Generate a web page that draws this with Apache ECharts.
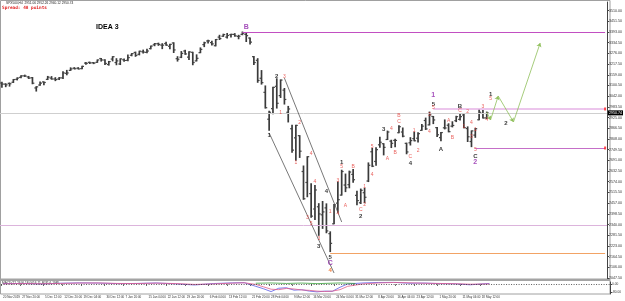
<!DOCTYPE html>
<html>
<head>
<meta charset="utf-8">
<title>SPX500 H4 - IDEA 3</title>
<script src="https://cdn.jsdelivr.net/npm/echarts@6/dist/echarts.min.js"></script>
<style>
  html, body { margin: 0; padding: 0; background: #fff; }
  #chart { width: 625px; height: 301px; }
</style>
</head>
<body>
<div id="chart"></div>
<script>
// one bar per session
var dates = [
  '2019.11.20','2019.11.21','2019.11.22','2019.11.25','2019.11.26','2019.11.27','2019.11.28','2019.11.29',
  '2019.12.02','2019.12.03','2019.12.04','2019.12.05','2019.12.06','2019.12.09','2019.12.10','2019.12.11',
  '2019.12.12','2019.12.13','2019.12.16','2019.12.17','2019.12.18','2019.12.19','2019.12.20','2019.12.23',
  '2019.12.24','2019.12.26','2019.12.27','2019.12.30','2019.12.31',
  '2020.01.02','2020.01.03','2020.01.06','2020.01.07','2020.01.08','2020.01.09','2020.01.10','2020.01.13',
  '2020.01.14','2020.01.15','2020.01.16','2020.01.17','2020.01.20','2020.01.21','2020.01.22','2020.01.23',
  '2020.01.24','2020.01.27','2020.01.28','2020.01.29','2020.01.30','2020.01.31',
  '2020.02.03','2020.02.04','2020.02.05','2020.02.06','2020.02.07','2020.02.10','2020.02.11','2020.02.12',
  '2020.02.13','2020.02.14','2020.02.17','2020.02.18','2020.02.19','2020.02.20','2020.02.21','2020.02.24',
  '2020.02.25','2020.02.26','2020.02.27','2020.02.28',
  '2020.03.02','2020.03.03','2020.03.04','2020.03.05','2020.03.06','2020.03.09','2020.03.10','2020.03.11',
  '2020.03.12','2020.03.13','2020.03.16','2020.03.17','2020.03.18','2020.03.19','2020.03.20','2020.03.23',
  '2020.03.24','2020.03.25','2020.03.26','2020.03.27','2020.03.30','2020.03.31',
  '2020.04.01','2020.04.02','2020.04.03','2020.04.06','2020.04.07','2020.04.08','2020.04.09','2020.04.13',
  '2020.04.14','2020.04.15','2020.04.16','2020.04.17','2020.04.20','2020.04.21','2020.04.22','2020.04.23',
  '2020.04.24','2020.04.27','2020.04.28','2020.04.29','2020.04.30',
  '2020.05.01','2020.05.04','2020.05.05','2020.05.06','2020.05.07','2020.05.08','2020.05.11','2020.05.12',
  '2020.05.13','2020.05.14','2020.05.15','2020.05.18','2020.05.19','2020.05.20'
];
// empty space on the right for the projection
var futureDates = [
  '2020.05.21','2020.05.22','2020.05.26','2020.05.27','2020.05.28','2020.05.29',
  '2020.06.01','2020.06.02','2020.06.03','2020.06.04','2020.06.05','2020.06.08','2020.06.09','2020.06.10',
  '2020.06.11','2020.06.12','2020.06.15','2020.06.16','2020.06.17','2020.06.18','2020.06.19','2020.06.22',
  '2020.06.23','2020.06.24','2020.06.25','2020.06.26','2020.06.29','2020.06.30','2020.07.01','2020.07.02',
  '2020.07.06'
];

var opens = [
  3114,3108,3112,3118,3134,3145,3153,3147, 3143,3087,3103,3120,3134,3141,3136,3136,3142,3167,3183,3195,3195,3193,3223,3227,3225,3227,3248,3240,3215,
  3245,3226,3218,3241,3238,3266,3281,3271,3285,3282,3302,3323,3329,3321,3330,3315,3333,3247,3255,3289,3256,3282,
  3235,3280,3324,3344,3335,3318,3365,3370,3365,3378,3380,3369,3380,3380,3360,3258,3238,3140,3063,2916,
  2974,3096,3045,3075,2954,2864,2814,2826,2630,2570,2509,2425,2437,2393,2431,2290,2344,2457,2501,2556,2558,2614,
  2499,2459,2514,2578,2738,2685,2776,2782,2805,2796,2800,2842,2846,2784,2787,2810,2812,2855,2909,2885,2931,
  2870,2815,2869,2883,2878,2908,2915,2939,2865,2794,2829,2913,2948,2923
];
var highs = [
  3118,3110,3114,3133,3142,3154,3157,3150, 3144,3094,3119,3120,3150,3149,3143,3144,3176,3183,3197,3198,3198,3206,3226,3228,3226,3240,3248,3241,3232,
  3258,3247,3246,3245,3267,3275,3283,3288,3294,3298,3316,3330,3332,3329,3337,3326,3334,3258,3286,3293,3285,3282,
  3268,3306,3337,3348,3342,3352,3375,3381,3385,3381,3384,3375,3393,3389,3360,3259,3247,3182,3098,2959,
  3091,3137,3131,3084,2986,2883,2883,2826,2660,2711,2563,2553,2454,2466,2453,2300,2450,2572,2637,2616,2632,2641,
  2522,2534,2538,2677,2756,2760,2818,2782,2851,2801,2807,2880,2868,2785,2815,2845,2842,2887,2922,2955,2931,
  2870,2844,2912,2891,2902,2932,2945,2945,2874,2852,2865,2968,2964,2955
];
var lows = [
  3091,3094,3097,3117,3131,3143,3150,3139, 3110,3070,3102,3104,3133,3135,3127,3133,3138,3159,3183,3191,3191,3192,3217,3221,3220,3227,3234,3215,3212,
  3235,3214,3215,3233,3236,3263,3260,3268,3278,3280,3301,3318,3320,3302,3320,3301,3281,3234,3253,3271,3242,3214,
  3235,3280,3313,3333,3322,3317,3352,3369,3360,3366,3370,3356,3378,3341,3328,3215,3118,3108,2977,2855,
  2946,2977,3035,2999,2901,2735,2691,2707,2478,2492,2380,2367,2281,2319,2295,2192,2344,2407,2501,2520,2541,2571,
  2448,2455,2459,2575,2657,2664,2762,2721,2805,2761,2765,2842,2820,2727,2775,2798,2791,2855,2860,2885,2892,
  2822,2798,2863,2847,2874,2903,2912,2869,2794,2766,2817,2913,2922,2920
];
var closes = [
  3108,3104,3110,3133,3141,3153,3152,3141, 3113,3093,3113,3117,3146,3136,3133,3142,3169,3169,3191,3192,3191,3205,3221,3224,3223,3240,3240,3221,3231,
  3258,3235,3246,3237,3253,3275,3265,3288,3283,3289,3316,3329,3325,3321,3321,3325,3295,3244,3276,3273,3284,3226,
  3249,3298,3334,3345,3328,3352,3357,3379,3374,3380,3372,3370,3386,3373,3338,3226,3128,3116,2979,2954,
  3090,3003,3130,3024,2972,2747,2882,2741,2481,2711,2386,2529,2398,2409,2305,2237,2447,2476,2630,2541,2627,2585,
  2471,2527,2489,2664,2659,2750,2790,2762,2846,2784,2800,2875,2823,2737,2799,2798,2837,2878,2863,2940,2912,
  2831,2843,2868,2848,2882,2930,2930,2870,2820,2852,2864,2954,2923,2950.74
];

// price scale ticks
var priceMin = 2047.5;
var priceMax = 3557.1;
var priceStep = 58.5;

// bottom time labels: bar index and text
var tickIdx = [0, 5, 11, 16, 21, 27, 32, 38, 43, 48, 54, 59, 65, 70, 76, 81, 87, 92, 98, 103, 108, 114, 120, 125];
var tickLabels = [
  '20 Nov 2019', '27 Nov 20:00', '5 Dec 12:00', '12 Dec 20:00', '19 Dec 04:00', '30 Dec 12:00',
  '7 Jan 20:00', '15 Jan 04:00', '22 Jan 12:00', '29 Jan 20:00', '6 Feb 04:00', '13 Feb 12:00',
  '21 Feb 20:00', '28 Feb 04:00', '9 Mar 12:00', '16 Mar 20:00', '24 Mar 04:00', '31 Mar 12:00',
  '8 Apr 20:00', '16 Apr 04:00', '23 Apr 12:00', '1 May 20:00', '11 May 04:00', '18 May 12:00'
];

// horizontal levels
var peakLevel = 3393;
var wave5Level = 2972;
var bidPrice = 2950.74;
var wave2Level = 2758.5;
var midLevel = 2333.6;
var lowLevel = 2184;

// channel lines: [startIdx, startPrice, endIdx, endPrice]
var channelA = [70, 2841, 87, 2075];
var channelB = [74, 3141, 89, 2354];

// projected path
var projIdx = [127, 128, 130, 134, 141];
var projPrice = [2955, 2912, 3043, 2901, 3333];

// wave labels: [barIdx, price, text]
var blackWaves = [
  [72, 3152, '2'], [70, 2830, '1'], [85, 2523, '4'], [83, 2222, '3'], [86, 2162, '5'],
  [89, 2682, '1'], [94, 2387, '2'], [100, 2862, '3'], [107, 2676, '4'], [113, 2999, '5'],
  [115, 2753, 'A'], [120, 2988, 'B'], [124, 2715, 'C'], [128, 3054, '1'], [132, 2895, '2']
];
var purpleWaves = [[64, 3420, 'B'], [86, 2129, 'C'], [113, 3048, '1'], [124, 2682, '2']];
var orangeWaves = [[86, 2091, '4']];
var redWaves = [
  [74, 3147, '3'], [73, 2950, '1'], [78, 2895, '2'], [77, 2677, '1'], [81, 2726, '4'],
  [82, 2573, '4'], [80, 2376, '3'], [81, 2343, '5'], [83, 2261, '3'], [86, 2408, '1'],
  [89, 2655, '5'], [88, 2578, '3'], [88, 2397, '4'], [90, 2441, 'A'], [92, 2655, 'B'],
  [95, 2545, '1'], [94, 2419, 'C'], [95, 2447, '2'], [97, 2611, '4'], [97, 2764, '5'],
  [101, 2698, 'A'], [102, 2862, '4'], [104, 2934, 'B'], [104, 2901, 'C'], [103, 2731, 'B'],
  [107, 2709, 'C'], [108, 2851, '1'], [109, 2742, '2'], [112, 2939, '3'], [112, 2846, '4'],
  [113, 2977, '5'], [117, 2906, 'A'], [118, 2813, 'B'], [120, 2961, 'C'], [122, 2955, '2'],
  [121, 2873, '1'], [123, 2895, '4'], [123, 2819, '3'], [124, 2857, '1'], [124, 2748, '5'],
  [126, 2983, '3'], [127, 2912, '4'], [128, 3026, '5']
];

// oscillator in the lower window, sampled
var oscIdx = [0, 5, 10, 15, 20, 25, 30, 35, 40, 45, 50, 55, 60, 63, 66, 68, 70, 72, 74, 76, 78, 80, 82, 84, 86, 88, 90, 94, 98, 102, 106, 110, 114, 118, 122, 127];
var oscMain = [8, 10, 4, 12, 16, 14, 8, 10, 15, 6, -6, 9, 16, 18, -20, -45, -75, -40, -35, -60, -55, -70, -78, -70, -72, -30, 5, 15, 20, 22, 12, 14, 8, 6, -4, 10];
var oscSignal = [6, 9, 6, 10, 14, 15, 10, 9, 13, 9, 0, 5, 13, 17, 0, -25, -50, -55, -42, -48, -58, -62, -70, -74, -70, -55, -20, 5, 15, 20, 17, 12, 10, 7, 2, 5];
var oscGreenIdx = [66, 70, 74, 78, 82, 88, 92];
var oscGreen = [12, 15, 10, 14, 8, 15, 10];

var chart = echarts.init(document.getElementById('chart'));

var categories = dates.concat(futureDates);
var lastIdx = categories.length - 1;
var bars = opens.map(function (o, i) { return [i, o, closes[i], lows[i], highs[i]]; });

var tickMap = {};
tickIdx.forEach(function (k, i) { tickMap[k] = tickLabels[i]; });

function pairs(xs, ys) {
  return xs.map(function (x, i) { return [x, ys[i]]; });
}

function wavePoints(list) {
  return list.map(function (d) { return { name: d[2], value: [d[0], d[1]] }; });
}

function waveSeries(list, color, size, bold, extra) {
  var s = {
    type: 'scatter',
    xAxisIndex: 0,
    yAxisIndex: 0,
    symbolSize: 1,
    itemStyle: { color: 'rgba(0,0,0,0)' },
    silent: true,
    z: 6,
    data: wavePoints(list),
    label: {
      show: true,
      position: 'inside',
      formatter: '{b}',
      color: color,
      fontSize: size,
      fontWeight: bold ? 'bold' : 'normal',
      fontFamily: 'Liberation Sans'
    }
  };
  for (var k in extra) s[k] = extra[k];
  return s;
}

function hLine(startIdx, price, color, width) {
  return [
    { coord: [startIdx, price], lineStyle: { color: color, width: width, type: 'solid' } },
    { coord: [lastIdx, price] }
  ];
}

function segment(a, b, c, d, style) {
  return [{ coord: [a, b], lineStyle: style }, { coord: [c, d] }];
}

// MT4 style bar: high-low stroke with open tick left and close tick right
function renderBar(params, api) {
  var idx = api.value(0);
  var o = api.coord([idx, api.value(1)]);
  var c = api.coord([idx, api.value(2)]);
  var l = api.coord([idx, api.value(3)]);
  var h = api.coord([idx, api.value(4)]);
  var half = api.size([1, 0])[0] * 0.5;
  var tick = { stroke: '#444', lineWidth: 1.2 };
  return {
    type: 'group',
    children: [
      { type: 'line', shape: { x1: h[0], y1: h[1] - 0.5, x2: l[0], y2: l[1] + 0.5 }, style: { stroke: '#3a3a3a', lineWidth: 1.7 } },
      { type: 'line', shape: { x1: o[0] - half, y1: o[1], x2: o[0], y2: o[1] }, style: tick },
      { type: 'line', shape: { x1: c[0], y1: c[1], x2: c[0] + half, y2: c[1] }, style: tick }
    ]
  };
}

var projSegments = [];
for (var i = 0; i < projIdx.length - 1; i++) {
  projSegments.push([{ coord: [projIdx[i], projPrice[i]] }, { coord: [projIdx[i + 1], projPrice[i + 1]] }]);
}

var smallFont = 'Liberation Sans';

var option = {
  animation: false,
  backgroundColor: '#fff',
  title: {
    text: 'IDEA 3',
    left: 96,
    top: 24,
    padding: 0,
    textStyle: { fontSize: 7, fontWeight: 'bold', color: '#000', fontFamily: smallFont }
  },
  graphic: [
    { type: 'rect', shape: { x: 0.5, y: 0.5, width: 609.5, height: 293.5 }, style: { fill: null, stroke: '#a0a0a0', lineWidth: 1 }, silent: true },
    { type: 'rect', shape: { x: 0, y: 278.5, width: 610, height: 2.5 }, style: { fill: '#a4a4a4' }, silent: true },
    { type: 'text', left: 6, top: 1.5, style: { text: 'SPX500,H4  2951.06 2952.26 2940.12 2950.74', fontSize: 3.2, fill: '#222', fontFamily: smallFont }, silent: true },
    { type: 'text', left: 2, top: 6, style: { text: 'Spread: 48 points', fontSize: 4.4, fontWeight: 'bold', fill: '#e02020', fontFamily: 'DejaVu Sans Mono' }, silent: true },
    { type: 'text', left: 2, top: 282, style: { text: 'MACD(12,26,9) 18.0016 11.8031 6.1985', fontSize: 3.2, fill: '#222', fontFamily: smallFont }, silent: true }
  ],
  grid: [
    { left: 0, right: 15, top: 2, height: 276 },
    { left: 0, right: 15, top: 282, height: 12 }
  ],
  xAxis: [
    {
      type: 'category', gridIndex: 0, data: categories, boundaryGap: true,
      axisLine: { show: false }, axisTick: { show: false }, axisLabel: { show: false }, splitLine: { show: false }
    },
    {
      type: 'category', gridIndex: 1, data: categories, boundaryGap: true,
      axisLine: { show: false },
      axisTick: { show: true, length: 1.5, lineStyle: { color: '#555' }, interval: function (i) { return tickMap[i] !== undefined; } },
      axisLabel: {
        show: true, fontSize: 3, color: '#333', fontFamily: smallFont, align: 'left', margin: 2,
        interval: function (i) { return tickMap[i] !== undefined; },
        formatter: function (v, i) { return tickMap[i] || ''; }
      },
      splitLine: { show: false }
    }
  ],
  yAxis: [
    {
      type: 'value', gridIndex: 0, position: 'right',
      min: priceMin, max: priceMax, interval: priceStep,
      axisLine: { show: true, lineStyle: { color: '#444', width: 1 } },
      axisTick: { show: true, length: 2, lineStyle: { color: '#444' } },
      axisLabel: {
        show: true, fontSize: 3.6, color: '#333', margin: 2, fontFamily: smallFont,
        showMaxLabel: false,
        formatter: function (v) { return v.toFixed(2); }
      },
      splitLine: { show: false }
    },
    {
      type: 'value', gridIndex: 1, position: 'right',
      min: -100, max: 25,
      axisLine: { show: true, lineStyle: { color: '#444', width: 1 } },
      axisTick: { show: true, length: 2, customValues: [18, 0, -80], lineStyle: { color: '#444' } },
      axisLabel: {
        show: true, fontSize: 3.2, color: '#333', margin: 2, fontFamily: smallFont,
        customValues: [18, 0, -80],
        formatter: function (v) { return v.toFixed(2); }
      },
      splitLine: { show: false }
    }
  ],
  series: [
    {
      name: 'SPX500',
      type: 'custom',
      xAxisIndex: 0,
      yAxisIndex: 0,
      renderItem: renderBar,
      encode: { x: 0, y: [1, 2, 3, 4] },
      data: bars,
      silent: true,
      z: 3
    },
    waveSeries(blackWaves, '#000', 6, true, {
      markLine: {
        silent: true,
        symbol: 'none',
        animation: false,
        label: { show: false },
        data: [
          hLine(63, peakLevel, '#c24fc2', 1),
          hLine(113, wave5Level, '#e6b2e6', 1.6),
          hLine(124, wave2Level, '#c56fc8', 1),
          hLine(86, lowLevel, '#f2a365', 1),
          { yAxis: midLevel, lineStyle: { color: '#dcb4dc', width: 1, type: 'solid' } },
          {
            yAxis: bidPrice,
            lineStyle: { color: '#cfcfcf', width: 1, type: 'solid' },
            label: {
              show: true, position: 'end', distance: 1,
              formatter: bidPrice.toFixed(2),
              color: '#fff', backgroundColor: '#000', padding: [1, 1, 0, 1],
              fontSize: 3.6, fontFamily: smallFont
            }
          },
          segment(channelA[0], channelA[1], channelA[2], channelA[3], { color: '#555', width: 0.8, type: 'solid' }),
          segment(channelB[0], channelB[1], channelB[2], channelB[3], { color: '#555', width: 0.8, type: 'solid' })
        ]
      }
    }),
    waveSeries(purpleWaves, '#8e24aa', 7, true, {
      markLine: {
        silent: true,
        symbol: ['none', 'arrow'],
        symbolSize: 4,
        animation: false,
        label: { show: false },
        lineStyle: { color: '#8fbf5a', width: 0.8, type: 'solid' },
        itemStyle: { color: '#2e7d32' },
        data: projSegments
      }
    }),
    waveSeries(orangeWaves, '#f06010', 6, true),
    waveSeries(redWaves, '#e53935', 5, false),
    {
      type: 'scatter',
      xAxisIndex: 0,
      yAxisIndex: 0,
      silent: true,
      symbol: 'rect',
      symbolSize: [2, 3],
      itemStyle: { color: '#ff2020' },
      data: [[lastIdx, wave5Level], [lastIdx, wave2Level]],
      z: 7
    },
    {
      type: 'line', xAxisIndex: 1, yAxisIndex: 1, data: pairs(oscIdx, oscMain),
      showSymbol: false, silent: true, lineStyle: { color: '#5a5ae6', width: 0.8 },
      markLine: {
        silent: true, symbol: 'none', label: { show: false }, animation: false,
        lineStyle: { color: '#333', type: [1, 1.5], width: 0.8 },
        data: [{ yAxis: 0 }]
      }
    },
    {
      type: 'line', xAxisIndex: 1, yAxisIndex: 1, data: pairs(oscIdx, oscSignal),
      showSymbol: false, silent: true, lineStyle: { color: '#e05a8a', width: 0.8 }
    },
    {
      type: 'line', xAxisIndex: 1, yAxisIndex: 1, data: pairs(oscGreenIdx, oscGreen),
      showSymbol: false, silent: true, lineStyle: { color: '#3aa03a', width: 0.8 }
    }
  ]
};

chart.setOption(option);
</script>
</body>
</html>
